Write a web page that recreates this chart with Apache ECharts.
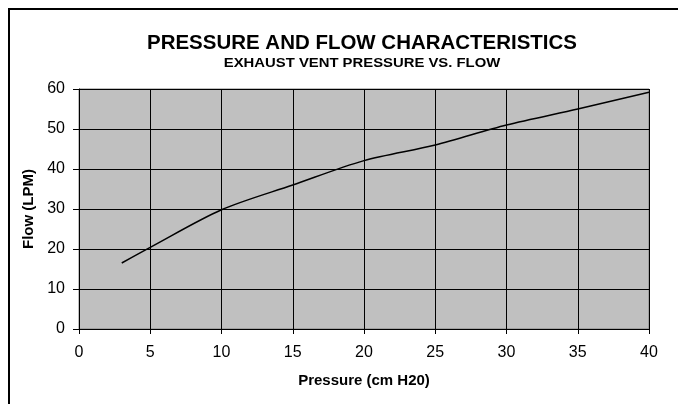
<!DOCTYPE html>
<html lang="en">
<head>
    <meta charset="UTF-8">
    <title>Pressure and Flow</title>
    <script src="https://cdn.jsdelivr.net/npm/echarts@6/dist/echarts.min.js"></script>
    <style>
        html, body { margin: 0; padding: 0; background: #fff; }
    </style>
</head>
<body>
    <div id="echarts" style="width: 678px; height: 404px;"></div>
    <script>
        const pressureArr = [3, 5, 10, 15, 20, 25, 30, 35, 40];
        const flowArr = [16.5, 20.4, 29.8, 36, 42.1, 46, 51, 55, 59.2];
        const titleText = 'PRESSURE AND FLOW CHARACTERISTICS';
        const subText = 'EXHAUST VENT PRESSURE VS. FLOW';

        const font = '"Liberation Sans", Arial, sans-serif';
        const myChart = echarts.init(document.querySelector('#echarts'));
        const option = {
            backgroundColor: '#fff',
            animation: false,
            graphic: [
                { // outer frame, runs off the right and bottom edge
                    type: 'rect',
                    shape: { x: 9, y: 9, width: 720, height: 440 },
                    style: { fill: 'none', stroke: '#000', lineWidth: 2 }
                },
                {
                    type: 'text',
                    x: 362, y: 34,
                    scaleX: 1.05,
                    style: { text: titleText, textAlign: 'center', fill: '#000', font: 'bold 19.5px ' + font }
                },
                {
                    type: 'text',
                    x: 362, y: 56,
                    scaleX: 1.1,
                    style: { text: subText, textAlign: 'center', fill: '#000', font: 'bold 13.5px ' + font }
                }
            ],
            grid: {
                left: 79,
                right: 29,
                top: 89,
                bottom: 75,
                show: true,
                backgroundColor: '#c0c0c0',
                borderColor: '#808080',
                borderWidth: 1
            },
            xAxis: {
                type: 'value',
                min: 0,
                max: 40,
                interval: 5,
                name: 'Pressure (cm H20)',
                nameLocation: 'middle',
                nameGap: 44,
                nameTextStyle: { color: '#000', fontSize: 15, fontWeight: 'bold', fontFamily: font },
                axisLine: { lineStyle: { color: '#000', width: 1 } },
                axisTick: { show: true, length: 5, lineStyle: { color: '#000' } },
                axisLabel: { color: '#000', fontSize: 16, fontFamily: font, margin: 16 },
                splitLine: { show: true, lineStyle: { color: '#000', width: 1 } }
            },
            yAxis: {
                type: 'value',
                min: 0,
                max: 60,
                interval: 10,
                name: 'Flow (LPM)',
                nameLocation: 'middle',
                nameGap: 40,
                nameRotate: 90,
                nameTextStyle: { color: '#000', fontSize: 15, fontWeight: 'bold', fontFamily: font },
                axisLine: { show: true, lineStyle: { color: '#000', width: 1 } },
                axisTick: { show: true, length: 6, lineStyle: { color: '#000' } },
                axisLabel: { color: '#000', fontSize: 16, fontFamily: font, margin: 14 },
                splitLine: { show: true, lineStyle: { color: '#000', width: 1 } }
            },
            series: [
                {
                    type: 'line',
                    data: pressureArr.map((p, i) => [p, flowArr[i]]),
                    smooth: 0.3,
                    symbol: 'none',
                    lineStyle: { color: '#000', width: 1.5 }
                }
            ]
        };
        myChart.setOption(option);
    </script>
</body>
</html>
